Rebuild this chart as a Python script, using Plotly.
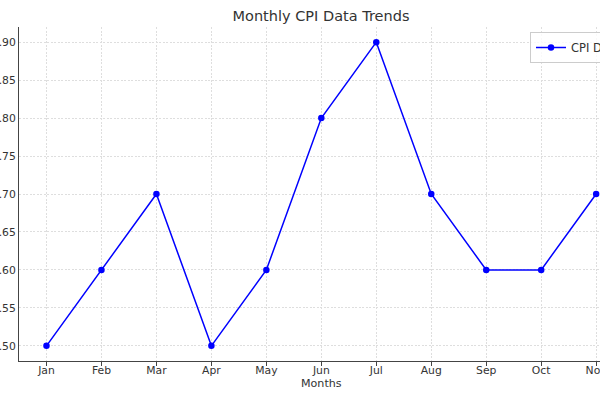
import plotly.graph_objects as go

months = ["Jan", "Feb", "Mar", "Apr", "May", "Jun", "Jul", "Aug", "Sep", "Oct", "Nov"]
cpi = [0.50, 0.60, 0.70, 0.50, 0.60, 0.80, 0.90, 0.70, 0.60, 0.60, 0.70]
y_ticks = [0.50, 0.55, 0.60, 0.65, 0.70, 0.75, 0.80, 0.85, 0.90]

FONT = "DejaVu Sans"
TXT = "#333333"
GRID = "#dedede"
FS = 10.8

fig = go.Figure()
fig.add_trace(go.Scatter(
    x=months, y=cpi, mode="lines+markers", name="CPI Data",
    line=dict(color="#0000ff", width=1.5),
    marker=dict(color="#0000ff", size=6.5),
))

fig.update_layout(
    width=600, height=400,
    margin=dict(l=19, r=0, t=27, b=39, autoexpand=False),
    paper_bgcolor="white", plot_bgcolor="white",
    font=dict(family=FONT, color=TXT, size=FS),
    title=dict(text="Monthly CPI Data Trends", font=dict(size=14.5, color=TXT),
               xref="container", x=321/600, xanchor="center",
               yref="container", y=1-16/400, yanchor="middle"),
    showlegend=True,
    legend=dict(xref="container", yref="container", x=530/600, y=1-32/400,
                xanchor="left", yanchor="top", bgcolor="rgba(255,255,255,0.8)",
                bordercolor="#cccccc", borderwidth=1, font=dict(size=FS + 0.7, color=TXT)),
    annotations=[dict(text="Months", xref="paper", yref="paper",
                      x=(321-19)/581, y=-(383-361)/334, xanchor="center", yanchor="middle",
                      showarrow=False, font=dict(size=FS + 0.3, color=TXT))],
)

fig.update_xaxes(
    range=[-0.5, 10.07], type="category",
    showline=True, linecolor="#444444", linewidth=1, mirror=False,
    ticks="outside", ticklen=3.5, tickcolor="#444444", tickwidth=1,
    ticklabelstandoff=-4,
    showgrid=True, gridcolor=GRID, griddash="2px,1.5px", gridwidth=1,
    zeroline=False,
    tickfont=dict(size=FS, color=TXT),
)
fig.update_yaxes(
    range=[0.48, 0.92], tickvals=y_ticks, tickformat=".2f",
    showline=True, linecolor="#444444", linewidth=1,
    ticks="", showgrid=True, gridcolor=GRID, griddash="2px,1.5px", gridwidth=1,
    zeroline=False, tickfont=dict(size=FS, color=TXT),
)

fig.write_html("out.html")
